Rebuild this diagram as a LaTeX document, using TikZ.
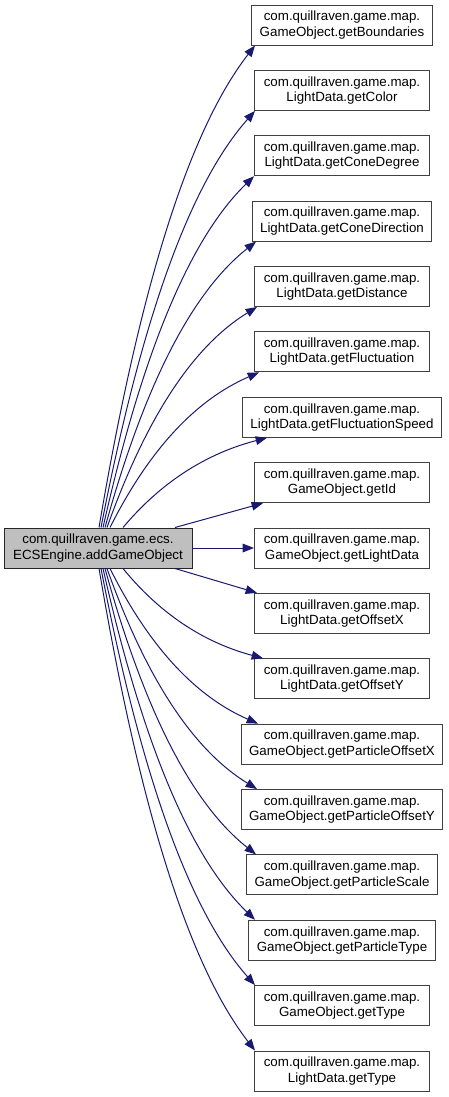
\documentclass[tikz,border=0pt]{standalone}
\usepackage{fontspec}
\setmainfont{Liberation Sans}
\usetikzlibrary{arrows.meta,calc}
\definecolor{callblue}{HTML}{191970}
\definecolor{rootgray}{HTML}{BFBFBF}
\tikzset{
  fnbox/.style={draw=black!75,line width=0.75pt,fill=white,align=center,
    font=\fontsize{10}{11.5}\selectfont,minimum width=131.25pt,minimum height=30pt,
    inner xsep=6pt,inner ysep=1pt},
  rootbox/.style={fnbox,fill=rootgray,draw=black!85,minimum width=141pt},
  call/.style={draw=callblue,line width=0.75pt,-{Triangle[length=8.5pt,width=6.5pt]}}
}
\begin{document}
\begin{tikzpicture}[x=0.75pt,y=-0.75pt]
\useasboundingbox (0,0) rectangle (449,1097);
\node[rootbox] (engine) at (98,548) {com.quillraven.game.ecs.\\ECSEngine.addGameObject};
\foreach \k/\nm/\fn in {0/bound/GameObject.getBoundaries,1/color/LightData.getColor,
    2/conedeg/LightData.getConeDegree,3/conedir/LightData.getConeDirection,
    4/dist/LightData.getDistance,5/fluct/LightData.getFluctuation,
    6/fluctspeed/LightData.getFluctuationSpeed,7/getid/GameObject.getId,
    8/lightdata/GameObject.getLightData,9/offx/LightData.getOffsetX,
    10/offy/LightData.getOffsetY,11/poffx/GameObject.getParticleOffsetX,
    12/poffy/GameObject.getParticleOffsetY,13/pscale/GameObject.getParticleScale,
    14/ptype/GameObject.getParticleType,15/gotype/GameObject.getType,
    16/ldtype/LightData.getType}
  \node[fnbox] (\nm) at (342,{25+65.375*\k}) {com.quillraven.game.map.\\\fn};
% calls above the root
\foreach \nm/\sx/\ex in {bound/99/255,color/101/255,conedeg/103/254,conedir/105/256,
    dist/107/257,fluct/110/259,fluctspeed/123/267}
  \draw[call] let \p1=($(engine.north)+({\sx-98},0)$), \p2=($(\nm.south)+({\ex-342},0)$) in
    (\p1) .. controls +({0.22*(\x2-\x1)},{0.42*(\y2-\y1)})
    and +({-0.48*(\x2-\x1)},{-0.2*(\y2-\y1)}) .. (\p2);
% calls below the root
\foreach \nm/\sx/\ex in {offy/123/263,poffx/110/258,poffy/107/257,pscale/105/256,
    ptype/103/255,gotype/101/255,ldtype/99/255}
  \draw[call] let \p1=($(engine.south)+({\sx-98},0)$), \p2=($(\nm.north)+({\ex-342},0)$) in
    (\p1) .. controls +({0.22*(\x2-\x1)},{0.42*(\y2-\y1)})
    and +({-0.48*(\x2-\x1)},{-0.2*(\y2-\y1)}) .. (\p2);
\draw[call] ($(engine.north)+(77,0)$) -- ($(getid.south)+(-79,0)$);
\draw[call] (engine.east) -- (lightdata.west);
\draw[call] ($(engine.south)+(77,0)$) -- ($(offx.north)+(-85,0)$);
\end{tikzpicture}
\end{document}
